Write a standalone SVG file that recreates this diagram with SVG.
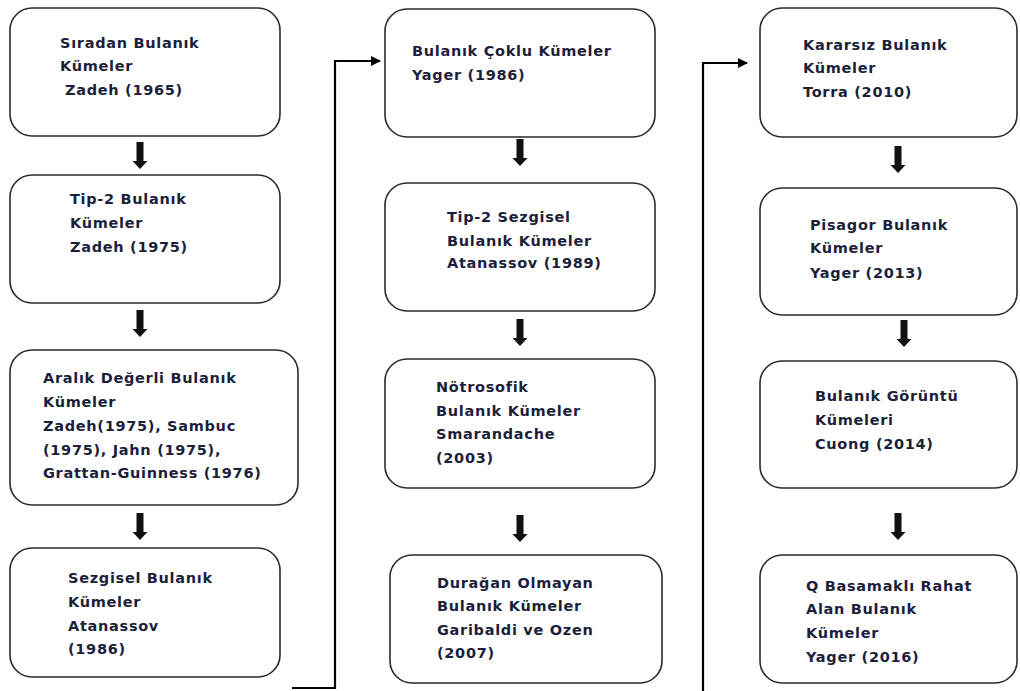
<svg xmlns="http://www.w3.org/2000/svg" width="1020" height="691" viewBox="0 0 1020 691">
<style>
.box{fill:#fff;stroke:#2b2b2b;stroke-width:1.6}
.t{font-family:"DejaVu Sans",Verdana,sans-serif;font-weight:bold;font-size:14.5px;letter-spacing:0.7px;fill:#1c1f3c}
.ar{fill:#111}
.ln{fill:none;stroke:#000;stroke-width:2.2}
</style>
<defs>
<marker id="ah" markerWidth="10" markerHeight="10" refX="9" refY="5" orient="auto" markerUnits="userSpaceOnUse">
<path d="M0,0 L10,5 L0,10 Z" fill="#000"/>
</marker>
<path id="da" d="M-3.5,0 H3.5 V19 H7.5 L0,27 L-7.5,19 H-3.5 Z"/>
</defs>
<rect width="1020" height="691" fill="#fff"/>

<g id="connectors">
<use href="#da" class="ar" x="140" y="142"/>
<use href="#da" class="ar" x="140" y="310"/>
<use href="#da" class="ar" x="140" y="513"/>
<use href="#da" class="ar" x="520" y="139"/>
<use href="#da" class="ar" x="520" y="319"/>
<use href="#da" class="ar" x="520" y="515"/>
<use href="#da" class="ar" x="898" y="146"/>
<use href="#da" class="ar" x="904" y="320"/>
<use href="#da" class="ar" x="898" y="513"/>
<path class="ln" d="M292,688 H335 V61 H380" marker-end="url(#ah)"/>
<path class="ln" d="M703,691 V63 H747" marker-end="url(#ah)"/>
</g>

<g id="n1"><rect class="box" x="10" y="8" width="270" height="128" rx="22"/>
<text class="t"><tspan x="60" y="48">Sıradan Bulanık</tspan><tspan x="60" y="71">Kümeler</tspan><tspan x="65" y="95">Zadeh (1965)</tspan></text></g>

<g id="n2"><rect class="box" x="10" y="175" width="270" height="128" rx="22"/>
<text class="t"><tspan x="70" y="204">Tip-2 Bulanık</tspan><tspan x="70" y="228">Kümeler</tspan><tspan x="70" y="252">Zadeh (1975)</tspan></text></g>

<g id="n3"><rect class="box" x="10" y="350" width="288" height="155" rx="22"/>
<text class="t"><tspan x="43" y="383">Aralık Değerli Bulanık</tspan><tspan x="43" y="407">Kümeler</tspan><tspan x="43" y="431">Zadeh(1975), Sambuc</tspan><tspan x="43" y="455">(1975), Jahn (1975),</tspan><tspan x="43" y="478">Grattan-Guinness (1976)</tspan></text></g>

<g id="n4"><rect class="box" x="10" y="548" width="270" height="129" rx="22"/>
<text class="t"><tspan x="68" y="583">Sezgisel Bulanık</tspan><tspan x="68" y="607">Kümeler</tspan><tspan x="68" y="631">Atanassov</tspan><tspan x="68" y="654">(1986)</tspan></text></g>

<g id="n5"><rect class="box" x="385" y="9" width="270" height="128" rx="22"/>
<text class="t"><tspan x="412" y="56">Bulanık Çoklu Kümeler</tspan><tspan x="412" y="80">Yager (1986)</tspan></text></g>

<g id="n6"><rect class="box" x="385" y="183" width="270" height="128" rx="22"/>
<text class="t"><tspan x="447" y="222">Tip-2 Sezgisel</tspan><tspan x="447" y="246">Bulanık Kümeler</tspan><tspan x="447" y="268">Atanassov (1989)</tspan></text></g>

<g id="n7"><rect class="box" x="385" y="359" width="270" height="129" rx="22"/>
<text class="t"><tspan x="436" y="392">Nötrosofik</tspan><tspan x="436" y="416">Bulanık Kümeler</tspan><tspan x="436" y="439">Smarandache</tspan><tspan x="436" y="463">(2003)</tspan></text></g>

<g id="n8"><rect class="box" x="390" y="555" width="272" height="128" rx="22"/>
<text class="t"><tspan x="437" y="588">Durağan Olmayan</tspan><tspan x="437" y="611">Bulanık Kümeler</tspan><tspan x="437" y="635">Garibaldi ve Ozen</tspan><tspan x="437" y="658">(2007)</tspan></text></g>

<g id="n9"><rect class="box" x="760" y="8" width="257" height="129" rx="22"/>
<text class="t"><tspan x="803" y="50">Kararsız Bulanık</tspan><tspan x="803" y="73">Kümeler</tspan><tspan x="803" y="97">Torra (2010)</tspan></text></g>

<g id="n10"><rect class="box" x="760" y="188" width="257" height="127" rx="22"/>
<text class="t"><tspan x="810" y="230">Pisagor Bulanık</tspan><tspan x="810" y="253">Kümeler</tspan><tspan x="810" y="278">Yager (2013)</tspan></text></g>

<g id="n11"><rect class="box" x="760" y="361" width="257" height="127" rx="22"/>
<text class="t"><tspan x="815" y="401">Bulanık Görüntü</tspan><tspan x="815" y="425">Kümeleri</tspan><tspan x="815" y="449">Cuong (2014)</tspan></text></g>

<g id="n12"><rect class="box" x="760" y="555" width="257" height="128" rx="22"/>
<text class="t"><tspan x="806" y="591">Q Basamaklı Rahat</tspan><tspan x="806" y="614">Alan Bulanık</tspan><tspan x="806" y="638">Kümeler</tspan><tspan x="806" y="662">Yager (2016)</tspan></text></g>
</svg>
